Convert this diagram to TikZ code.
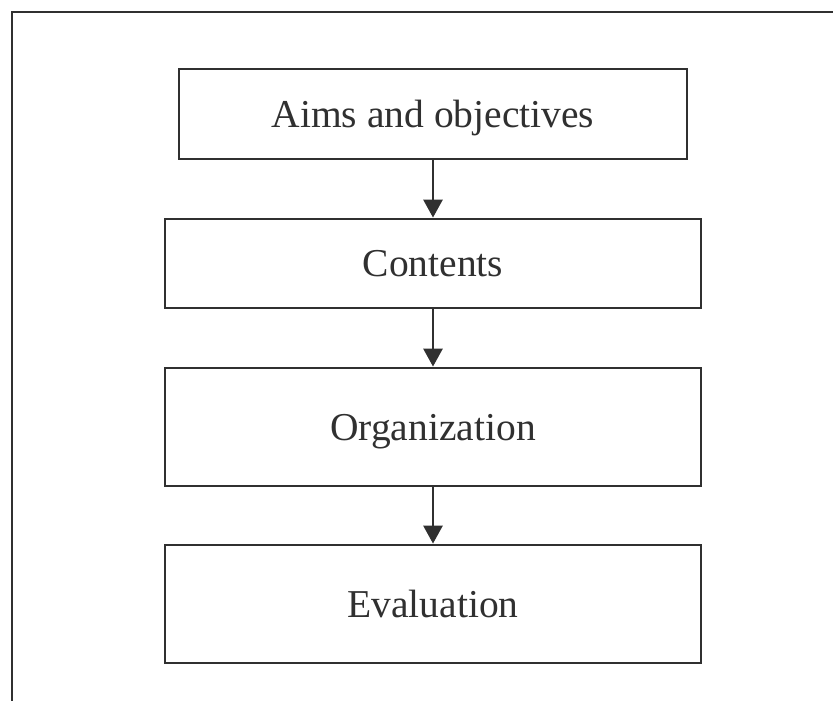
\documentclass[tikz,border=0pt]{standalone}
\usepackage{fontspec}
\setmainfont{Liberation Serif}
\usetikzlibrary{arrows.meta}
\definecolor{ink}{HTML}{303030}
\begin{document}
\begin{tikzpicture}[x=1pt,y=-1pt,
  stagebox/.style={draw=ink,line width=2.8pt,rectangle,inner sep=0pt,text=ink,
    font=\fontsize{39.5}{42}\selectfont,text height=26pt,text depth=0pt},
  flowarrow/.style={draw=ink,line width=2.8pt,-{Triangle[length=18pt,width=19pt]}}]
\useasboundingbox (0,0) rectangle (833,701);
\fill[white] (0,0) rectangle (833,701);
\draw[ink,line width=2.6pt] (833,12) -- (12,12) -- (12,701);
\node[stagebox,minimum width=508pt,minimum height=90pt] (aims) at (433,114) {Aims and objectives};
\node[stagebox,minimum width=536pt,minimum height=89pt] (cont) at (433,263.5) {Contents};
\node[stagebox,minimum width=536pt,minimum height=118pt] (org) at (433,427) {Organization};
\node[stagebox,minimum width=536pt,minimum height=118pt] (eval) at (433,604) {Evaluation};
\draw[flowarrow] (aims.south) -- (cont.north);
\draw[flowarrow] (cont.south) -- (org.north);
\draw[flowarrow] (org.south) -- (eval.north);
\end{tikzpicture}
\end{document}
